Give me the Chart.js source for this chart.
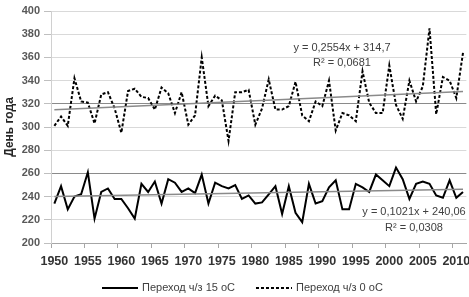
<!DOCTYPE html>
<html>
<head>
<meta charset="utf-8">
<script src="https://cdn.jsdelivr.net/npm/chart.js@4.4.0/dist/chart.umd.min.js"></script>
<style>
html, body { margin: 0; padding: 0; background: #fff; overflow: hidden; }
#wrap { width: 469px; height: 297px; }
</style>
</head>
<body>
<div id="wrap"><canvas id="chart"></canvas></div>
<script>
// years on the category axis
const years = [1950,1951,1952,1953,1954,1955,1956,1957,1958,1959,
               1960,1961,1962,1963,1964,1965,1966,1967,1968,1969,
               1970,1971,1972,1973,1974,1975,1976,1977,1978,1979,
               1980,1981,1982,1983,1984,1985,1986,1987,1988,1989,
               1990,1991,1992,1993,1994,1995,1996,1997,1998,1999,
               2000,2001,2002,2003,2004,2005,2006,2007,2008,2009,
               2010,2011]

// day of year, transition through 0 C (dashed)
const through0 = [301,309,301,342,322,321,303,328,330,316,
                  295,331,333,326,325,315,334,329,312,330,
                  302,310,360,318,327,323,288,330,330,332,
                  302,316,341,315,315,318,339,310,305,322,
                  318,340,297,312,310,305,348,321,312,312,
                  353,319,307,340,322,335,385,311,343,340,
                  325,364]

// day of year, transition through 15 C (solid)
const through15 = [234,249,229,240,242,261,221,244,247,238,
                   238,230,221,251,244,253,234,255,252,244,
                   247,243,259,234,252,249,247,250,238,241,
                   234,235,242,249,225,249,226,218,251,234,
                   236,248,254,229,229,251,248,244,259,254,
                   249,265,255,238,251,253,251,241,239,254,
                   239,244]

// trend lines as printed on the chart (x = 1..n)
const trend0Slope = 0.2554, trend0Intercept = 314.7
const trend15Slope = 0.1021, trend15Intercept = 240.06
const trend0Text = ['y = 0,2554x + 314,7', 'R² = 0,0681']
const trend15Text = ['y = 0,1021x + 240,06', 'R² = 0,0308']

const seriesLabels = ['Переход ч/з 15 оС', 'Переход ч/з 0 оС']
const markedGridValues = [260, 320]

const labels = years.map(String)
const first = labels[0], last = labels[labels.length - 1]

function trendPoints(slope, intercept){
    return [
        {x: first, y: intercept + slope * 1},
        {x: last, y: intercept + slope * years.length}
    ]
}

const textFont = '11px "Liberation Sans"'

const extras = {
    id: 'extras',
    afterDatasetsDraw(chart){
        const ctx = chart.ctx
        ctx.save()
        ctx.font = textFont
        ctx.fillStyle = '#404040'
        ctx.textAlign = 'center'
        ctx.textBaseline = 'middle'
        ctx.fillText(trend0Text[0], 342, 48)
        ctx.fillText(trend0Text[1], 342, 63)
        ctx.fillText(trend15Text[0], 414, 212)
        ctx.fillText(trend15Text[1], 414, 228)
        ctx.restore()
    },
    afterDraw(chart){
        // legend along the bottom
        const ctx = chart.ctx
        ctx.save()
        ctx.font = textFont
        ctx.textBaseline = 'middle'
        let x = 102
        const y = 288
        chart.data.datasets.forEach(ds => {
            if (!ds.label) return
            ctx.strokeStyle = ds.borderColor
            ctx.lineWidth = ds.borderWidth
            ctx.setLineDash(ds.borderDash || [])
            ctx.beginPath()
            ctx.moveTo(x, y)
            ctx.lineTo(x + 36, y)
            ctx.stroke()
            ctx.setLineDash([])
            ctx.fillStyle = '#404040'
            ctx.fillText(ds.label, x + 40, y)
            x += 40 + ctx.measureText(ds.label).width + 21
        })
        ctx.restore()
    }
}

new Chart(document.getElementById('chart'), {
    type: 'line',
    data: {
        labels: labels,
        datasets: [
            {
                label: '',
                data: trendPoints(trend15Slope, trend15Intercept),
                borderColor: '#8a8a8a',
                borderWidth: 1.5,
                pointRadius: 0
            },
            {
                label: '',
                data: trendPoints(trend0Slope, trend0Intercept),
                borderColor: '#8a8a8a',
                borderWidth: 1.5,
                pointRadius: 0
            },
            {
                label: seriesLabels[0],
                data: through15,
                borderColor: '#000000',
                borderWidth: 2,
                pointRadius: 0,
                tension: 0
            },
            {
                label: seriesLabels[1],
                data: through0,
                borderColor: '#000000',
                borderWidth: 2,
                borderDash: [3, 2],
                pointRadius: 0,
                tension: 0
            }
        ]
    },
    options: {
        responsive: true,
        maintainAspectRatio: false,
        animation: false,
        layout: {
            padding: {top: 11, right: 0, bottom: 26, left: 0}
        },
        scales: {
            x: {
                type: 'category',
                offset: true,
                grid: {
                    offset: true,
                    drawOnChartArea: false,
                    tickLength: 5,
                    tickColor: (c) => c.index % 5 === 0 ? '#a6a6a6' : 'transparent'
                },
                border: {color: '#a6a6a6'},
                ticks: {
                    autoSkip: false,
                    maxRotation: 0,
                    padding: 6,
                    color: '#333333',
                    font: {family: 'Liberation Sans', size: 12.5, weight: 'bold'},
                    callback: function(value, index){
                        return index % 5 === 0 ? this.getLabelForValue(value) : ''
                    }
                },
                afterFit: (scale) => { scale.height = 28 }
            },
            y: {
                min: 200,
                max: 400,
                ticks: {
                    stepSize: 20,
                    padding: 4,
                    color: '#595959',
                    font: {family: 'Liberation Sans', size: 11, weight: 'bold'}
                },
                grid: {
                    color: (c) => markedGridValues.includes(c.tick.value) ? '#8a8a8a' : '#d9d9d9',
                    tickColor: '#bfbfbf',
                    tickLength: 7
                },
                border: {color: '#d0d0d0'},
                title: {
                    display: true,
                    text: 'День года',
                    color: '#262626',
                    padding: {top: 2, bottom: 0},
                    font: {family: 'Liberation Sans', size: 12, weight: 'bold'}
                },
                afterFit: (scale) => { scale.width = 51 }
            }
        },
        plugins: {
            legend: {display: false},
            tooltip: {enabled: false}
        }
    },
    plugins: [extras]
})
</script>
</body>
</html>
